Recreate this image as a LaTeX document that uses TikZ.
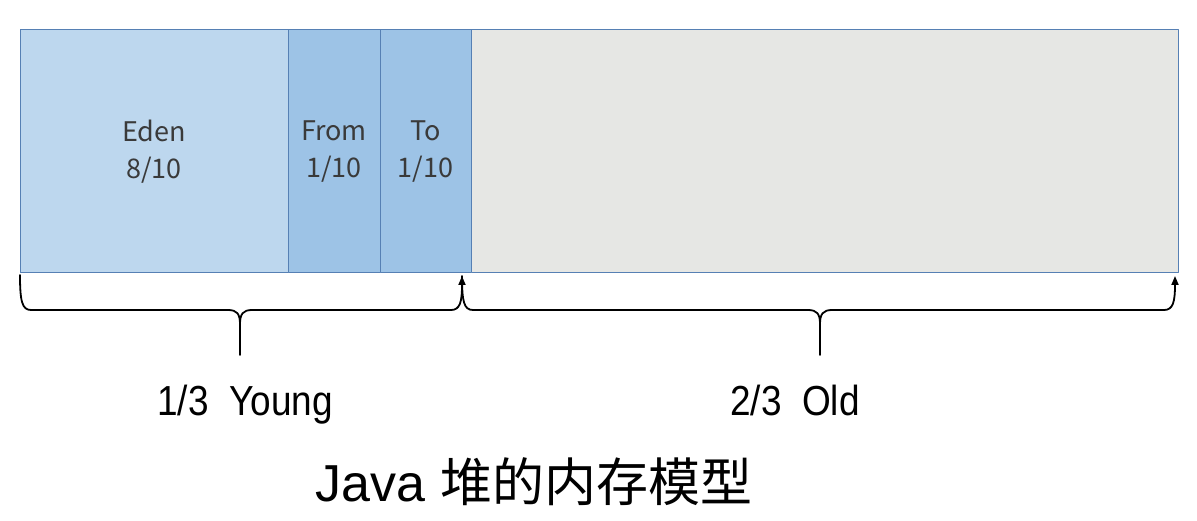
\documentclass[tikz,border=0pt]{standalone}
\usepackage{fontspec}
\setmainfont{Liberation Sans}
\newfontfamily\cjk{Noto Sans CJK SC}
\newfontfamily\narrowfont[FakeStretch=0.88]{Liberation Sans}
\usetikzlibrary{arrows.meta}
\definecolor{edenblue}{HTML}{BDD7EE}
\definecolor{survblue}{HTML}{9DC3E6}
\definecolor{oldgray}{HTML}{E6E7E4}
\definecolor{boxline}{HTML}{5680B4}
\definecolor{boxtext}{HTML}{3A3A3A}

\begin{document}
\begin{tikzpicture}[line cap=round,line join=round,x=1pt,y=-1pt,
  region/.style={draw=boxline,line width=1pt,anchor=north west,inner sep=0pt,outer sep=0pt,
    minimum height=243pt,align=center,text=boxtext,font=\cjk\fontsize{27}{37}\selectfont},
  brace/.style={line width=1.8pt,-{Triangle[length=9pt,width=7pt]}},
  caption/.style={anchor=base,font=\narrowfont\fontsize{42}{48}\selectfont}]
\useasboundingbox (0,0) rectangle (1197,521);
% heap regions
\node[region,fill=edenblue,minimum width=268pt] (eden) at (20,30) {Eden\\8/10};
\node[region,fill=survblue,minimum width=92pt] (from) at (eden.north east) {From\\1/10};
\node[region,fill=survblue,minimum width=91pt] (to) at (from.north east) {To\\1/10};
\node[region,fill=oldgray,minimum width=707pt] (old) at (to.north east) {};
% brace ends
\coordinate (ya) at (20,275);
\coordinate (yb) at (462,276);
\coordinate (ob) at (1175,276);
\coordinate (ytip) at (240,355);
\coordinate (otip) at (820,355);
\draw[brace] (ya) .. controls +(0,26) and +(-9,0) .. (31,310) -- (228,310)
  .. controls +(9,0) and +(0,-10) .. (240,324) -- (ytip) -- (240,324)
  .. controls +(0,-10) and +(-9,0) .. (252,310) -- (451,310)
  .. controls +(9,0) and +(0,26) .. (yb);
\draw[brace] (yb) .. controls +(0,26) and +(-9,0) .. (473,310) -- (808,310)
  .. controls +(9,0) and +(0,-10) .. (820,324) -- (otip) -- (820,324)
  .. controls +(0,-10) and +(-9,0) .. (832,310) -- (1164,310)
  .. controls +(9,0) and +(0,26) .. (ob);
% captions
\node[caption] (younglabel) at (245,415) {1/3\ \ Young};
\node[caption] (oldlabel) at (795,415) {2/3\ \ Old};
\node[anchor=base,font=\fontsize{52}{58}\selectfont] (title) at (534,501) {Java {\cjk 堆的内存模型}};
\end{tikzpicture}
\end{document}
